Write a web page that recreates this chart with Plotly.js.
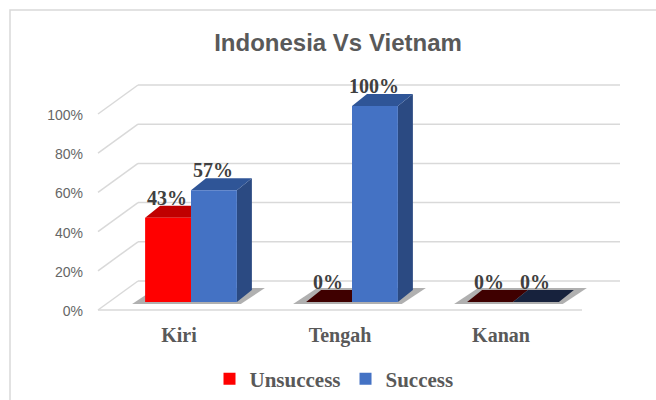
<!DOCTYPE html>
<html><head><meta charset="utf-8">
<script src="https://cdn.plot.ly/plotly-3.0.1.min.js"></script>
<style>html,body{margin:0;padding:0;background:#fff}</style>
</head><body><div id="chart" style="width:656px;height:400px"></div>
<script>
// ---- data ----
const categories = ['Kiri', 'Tengah', 'Kanan'];
const seriesNames = ['Unsuccess', 'Success'];
const unsuccess = [0.43, 0.00, 0.00];
const success = [0.57, 1.00, 0.00];
const yTickValues = [0, 0.2, 0.4, 0.6, 0.8, 1.0];
const yTickLabels = ['0%', '20%', '40%', '60%', '80%', '100%'];
const chartTitle = 'Indonesia Vs Vietnam';

// ---- styles ----
const frontColors = ['#ff0000', '#4472c4'];
const topColors = ['#c00000', '#2f5597'];
const sideColors = ['#a00000', '#2b4a82'];
const zeroColors = ['#3f0000', '#17223d'];

// ---- geometry (pixels) ----
const L = 98, R = 620, T = 80, B = 312;
const pxPerCat = 161, pxPerUnit = 196;
const basePx = 302, firstCenterPx = 191;
const bargap = 0.43;
const barW = (1 - bargap) / 2;
const dx = 15 / pxPerCat, dy = 12 / pxPerUnit;
const xRange = [(L - firstCenterPx) / pxPerCat, (R - firstCenterPx) / pxPerCat];
const yRange = [-(B - basePx) / pxPerUnit, (basePx - T) / pxPerUnit];
const px2paperX = px => (px - L) / (R - L);
const px2paperY = py => (B - py) / (B - T);
const backOffset = (basePx - 281) / pxPerUnit;
const frontOffset = -(310 - basePx) / pxPerUnit;

const allSeries = [unsuccess, success];
const idx = categories.map((c, i) => i);

const traces = allSeries.map((vals, s) => ({
  type: 'bar', name: seriesNames[s], x: idx, y: vals,
  marker: {color: frontColors[s], line: {width: 0}},
  hoverinfo: 'skip'
}));

const shapes = [];
// chart border
shapes.push({type: 'rect', xref: 'paper', yref: 'paper',
  x0: px2paperX(10), x1: px2paperX(700), y0: px2paperY(10), y1: px2paperY(430),
  line: {color: '#d9d9d9', width: 1.5}, fillcolor: 'rgba(0,0,0,0)', layer: 'below'});
// back wall gridlines and side diagonals
yTickValues.forEach(v => {
  shapes.push({type: 'line', xref: 'paper', yref: 'y', x0: px2paperX(138), x1: 1,
    y0: v + backOffset, y1: v + backOffset, line: {color: '#d9d9d9', width: 1.5}, layer: 'below'});
  shapes.push({type: 'line', xref: 'paper', yref: 'y', x0: 0, x1: px2paperX(138),
    y0: v + frontOffset, y1: v + backOffset, line: {color: '#d9d9d9', width: 1.5}, layer: 'below'});
});
// front floor edge
shapes.push({type: 'line', xref: 'paper', yref: 'y', x0: 0, x1: px2paperX(582),
  y0: frontOffset, y1: frontOffset, line: {color: '#d9d9d9', width: 1.5}, layer: 'below'});

// shadows under each category group
idx.forEach(i => {
  const xl = i - barW, xr = i + barW;
  const e = 13 / pxPerCat, f = 2 / pxPerUnit;
  shapes.push({type: 'path', xref: 'x', yref: 'y', layer: 'below',
    path: `M${xl - e},${-f} L${xr + e * 0.3},${-f} L${xr + dx + e},${dy + f} L${xl + dx - e * 0.3},${dy + f} Z`,
    fillcolor: 'rgba(80,80,80,0.45)', line: {width: 0}});
});

// 3D faces (top and right side) for each bar
allSeries.forEach((vals, s) => {
  vals.forEach((v, i) => {
    const xl = i - barW + s * barW, xr = xl + barW;
    if (v > 0) {
      shapes.push({type: 'path', xref: 'x', yref: 'y', layer: 'below',
        path: `M${xr},0 L${xr + dx},${dy} L${xr + dx},${v + dy} L${xr},${v} Z`,
        fillcolor: sideColors[s], line: {width: 0}});
    }
    shapes.push({type: 'path', xref: 'x', yref: 'y', layer: 'below',
      path: `M${xl},${v} L${xr},${v} L${xr + dx},${v + dy} L${xl + dx},${v + dy} Z`,
      fillcolor: v > 0 ? topColors[s] : zeroColors[s], line: {width: 0}});
  });
});

// data labels
const annotations = [];
allSeries.forEach((vals, s) => {
  vals.forEach((v, i) => {
    annotations.push({x: i - barW / 2 + s * barW, y: v, xref: 'x', yref: 'y',
      text: Math.round(v * 100) + '%', showarrow: false, yanchor: 'middle', xanchor: 'center',
      yshift: 20, xshift: -1,
      font: {family: 'Liberation Serif', size: 20, color: '#404040', weight: 'bold'}});
  });
});

const layout = {
  width: 656, height: 400,
  margin: {l: L, r: 656 - R, t: T, b: 400 - B, pad: 0, autoexpand: false},
  paper_bgcolor: '#ffffff', plot_bgcolor: 'rgba(0,0,0,0)',
  title: {text: chartTitle, xref: 'container', yref: 'container', x: 338 / 656, y: 1 - 43 / 400,
    xanchor: 'center', yanchor: 'middle', automargin: false,
    font: {family: 'Liberation Sans', size: 24, color: '#595959', weight: 'bold'}},
  barmode: 'group', bargap: bargap, bargroupgap: 0,
  xaxis: {range: xRange, tickmode: 'array', tickvals: idx, ticktext: categories,
    showgrid: false, zeroline: false, showline: false, ticks: '', automargin: false,
    ticklabelshift: -12, ticklabelstandoff: 9,
    tickfont: {family: 'Liberation Serif', size: 20, color: '#595959', weight: 'bold'}},
  yaxis: {range: yRange, tickmode: 'array', tickvals: yTickValues, ticktext: yTickLabels,
    showgrid: false, zeroline: false, showline: false, ticks: '', automargin: false,
    ticklabelshift: 9, ticklabelstandoff: 14,
    tickfont: {family: 'Liberation Sans', size: 14, color: '#666666'}},
  showlegend: true,
  legend: {orientation: 'h', x: px2paperX(334), xanchor: 'center', y: px2paperY(379), yanchor: 'middle',
    font: {family: 'Liberation Serif', size: 21, color: '#595959', weight: 'bold'},
    itemwidth: 30, traceorder: 'normal'},
  shapes: shapes,
  annotations: annotations,
  hovermode: false
};

Plotly.newPlot('chart', traces, layout, {staticPlot: true, displayModeBar: false});
</script>
</body></html>
